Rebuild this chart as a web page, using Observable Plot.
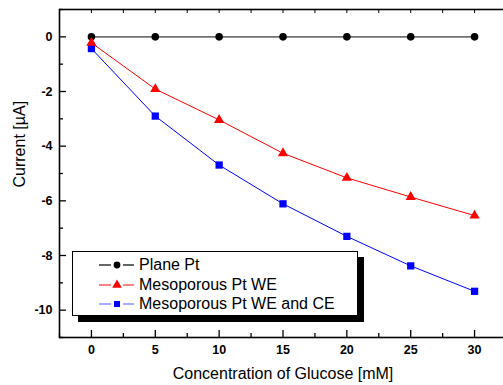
<!DOCTYPE html>
<html><head><meta charset="utf-8">
<script src="https://cdn.jsdelivr.net/npm/d3@7"></script>
<script src="https://cdn.jsdelivr.net/npm/@observablehq/plot@0.6"></script>
<style>
html,body{margin:0;padding:0;background:#fff;overflow:hidden}
#wrap{position:relative;width:503px;height:385px}
#legend{position:absolute;left:72px;top:251px;width:284px;height:60px;border:1px solid #000;background:#fff;box-shadow:6px 6px 0 #000;font:16px Arial,"Liberation Sans",sans-serif;padding-top:3px;box-sizing:content-box}
#legend .row{height:19.5px;display:flex;align-items:center;position:relative}
#legend svg{position:absolute;left:24px;top:0}
#legend span{position:absolute;left:66px;top:0;line-height:19.5px;white-space:nowrap}
</style></head>
<body><div id="wrap"></div>
<script>
const concentration = [0, 5, 10, 15, 20, 25, 30];
const planePt = [0, 0, 0, 0, 0, 0, 0];
const mesoWE = [-0.22, -1.91, -3.04, -4.26, -5.16, -5.86, -6.54];
const mesoWECE = [-0.43, -2.90, -4.69, -6.11, -7.30, -8.38, -9.31];
const seriesNames = ["Plane Pt", "Mesoporous Pt WE", "Mesoporous Pt WE and CE"];
const lineColors = ["#707070", "#ff0000", "#0000ff"];
const markColors = ["#000000", "#ff0000", "#0000ff"];
const legendLineColors = ["#000000", "#ff3030", "#7070ff"];
const symbols = ["circle", "triangle", "square"];
const xTicks = [0, 5, 10, 15, 20, 25, 30];
const xMinorTicks = [-2.5, 2.5, 7.5, 12.5, 17.5, 22.5, 27.5, 32.5];
const yTicks = [0, -2, -4, -6, -8, -10];
const yMinorTicks = [1, -1, -3, -5, -7, -9, -11];
const xLabel = "Concentration of Glucose [mM]";
const yLabel = "Current [µA]";

const seriesValues = [planePt, mesoWE, mesoWECE];
const data = seriesValues.flatMap((vals, si) =>
  vals.map((v, i) => ({x: concentration[i], y: v, s: seriesNames[si]})));
const sel = name => data.filter(d => d.s === name);

const font = "Arial, 'Liberation Sans', sans-serif";
const blank = () => "";

const chart = Plot.plot({
  width: 503, height: 385,
  marginLeft: 59, marginRight: -3, marginTop: 9, marginBottom: 48,
  style: {fontFamily: font, fontSize: "12px", background: "#fff", color: "#000"},
  x: {domain: [-2.5, 32.5], axis: null},
  y: {domain: [-11, 1], axis: null},
  marks: [
    Plot.line(sel(seriesNames[0]), {x: "x", y: "y", stroke: lineColors[0], strokeWidth: 1.6}),
    Plot.line(sel(seriesNames[2]), {x: "x", y: "y", stroke: lineColors[2], strokeWidth: 1}),
    Plot.line(sel(seriesNames[1]), {x: "x", y: "y", stroke: lineColors[1], strokeWidth: 1}),
    Plot.dot(sel(seriesNames[2]), {x: "x", y: "y", symbol: symbols[2], fill: markColors[2], r: 4.1}),
    Plot.dot(sel(seriesNames[0]), {x: "x", y: "y", symbol: symbols[0], fill: markColors[0], r: 3.8}),
    Plot.dot(sel(seriesNames[1]), {x: "x", y: "y", symbol: symbols[1], fill: markColors[1], r: 3.8}),
    Plot.axisX({anchor: "bottom", ticks: xTicks, tickSize: -7, tickFormat: blank, label: null, strokeWidth: 1.3}),
    Plot.axisX({anchor: "bottom", ticks: xMinorTicks, tickSize: -4, tickFormat: blank, label: null, strokeWidth: 1.3}),
    Plot.axisX({anchor: "top", ticks: xTicks, tickSize: -3, tickFormat: blank, label: null}),
    Plot.axisX({anchor: "top", ticks: xMinorTicks, tickSize: -3, tickFormat: blank, label: null}),
    Plot.axisY({anchor: "left", ticks: yTicks, tickSize: -7, tickFormat: blank, label: null, strokeWidth: 1.3}),
    Plot.axisY({anchor: "left", ticks: yMinorTicks, tickSize: -4, tickFormat: blank, label: null, strokeWidth: 1.3}),
    Plot.axisX({anchor: "bottom", ticks: xTicks, tickSize: 0, tickPadding: 8, tickFormat: d => String(d), label: null, fontWeight: "bold", fontSize: 12.5}),
    Plot.axisY({anchor: "left", ticks: yTicks, tickSize: 0, tickPadding: 7, tickFormat: d => String(d), label: null, fontWeight: "bold", fontSize: 12.5}),
    Plot.frame({stroke: "#000", strokeWidth: 1.6}),
    Plot.text([xLabel], {text: d => d, frameAnchor: "bottom", dy: 36, lineAnchor: "middle", fontSize: 16}),
    Plot.text([yLabel], {text: d => d, frameAnchor: "left", rotate: -90, dx: -40, dy: 14, lineAnchor: "middle", fontSize: 16})
  ]
});
const wrap = document.getElementById("wrap");
wrap.appendChild(chart);

const legend = document.createElement("div");
legend.id = "legend";
seriesNames.forEach((name, i) => {
  const row = document.createElement("div");
  row.className = "row";
  const s = d3.create("svg").attr("width", 40).attr("height", 19.5);
  s.append("line").attr("x1", 2).attr("x2", 14).attr("y1", 10).attr("y2", 10).attr("stroke", legendLineColors[i]).attr("stroke-width", 1.2);
  s.append("line").attr("x1", 26).attr("x2", 37).attr("y1", 10).attr("y2", 10).attr("stroke", legendLineColors[i]).attr("stroke-width", 1.2);
  const sym = {circle: d3.symbolCircle, triangle: d3.symbolTriangle, square: d3.symbolSquare}[symbols[i]];
  const size = {circle: 36, triangle: 40, square: 36}[symbols[i]];
  s.append("path").attr("d", d3.symbol(sym, size)()).attr("transform", "translate(20,10)").attr("fill", markColors[i]);
  row.appendChild(s.node());
  const t = document.createElement("span");
  t.textContent = name;
  row.appendChild(t);
  legend.appendChild(row);
});
wrap.appendChild(legend);
</script>
</body></html>
